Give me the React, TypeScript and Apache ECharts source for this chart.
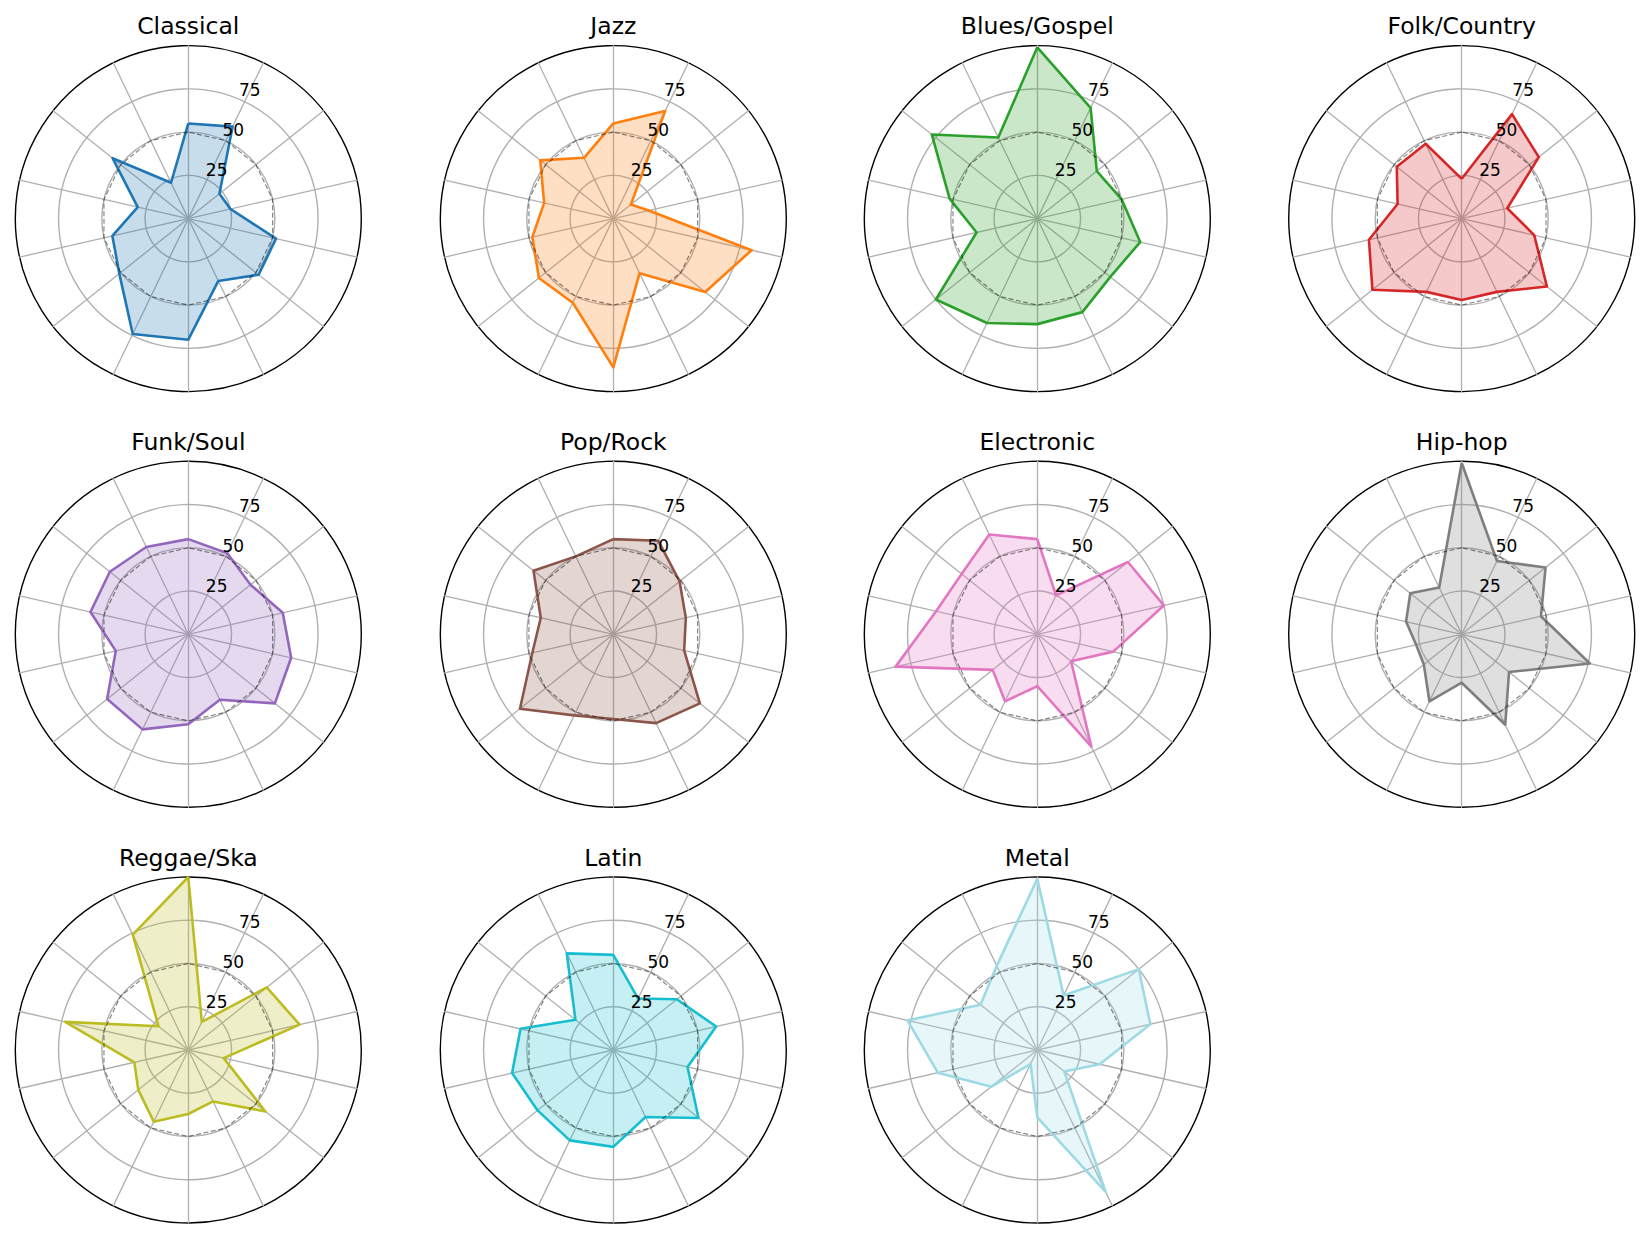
import React, { useEffect, useRef } from "react";
import * as echarts from "echarts";

// Genres (one radar each), values listed clockwise starting from the top spoke
const genres = [
  "Classical", "Jazz", "Blues/Gospel", "Folk/Country",
  "Funk/Soul", "Pop/Rock", "Electronic", "Hip-hop",
  "Reggae/Ska", "Latin", "Metal",
];

const classical = [55, 59, 23, 25, 52, 52, 40, 70, 74, 51, 45, 30, 56, 23];
const jazz = [55, 69, 13, 21, 82, 68, 35, 86, 54, 55, 48, 41, 54, 39];
const bluesGospel = [99, 71, 44, 50, 61, 54, 60, 61, 67, 75, 36, 52, 78, 52];
const folkCountry = [23, 67, 57, 27, 43, 63, 47, 47, 47, 66, 55, 38, 48, 48];
const funkSoul = [55, 52, 46, 56, 61, 64, 42, 52, 61, 60, 43, 58, 58, 56];
const popRock = [55, 60, 49, 43, 42, 64, 57, 49, 52, 69, 48, 43, 59, 50];
const electronic = [55, 25, 67, 75, 45, 25, 72, 30, 43, 33, 84, 60, 56, 64];
const hipHop = [99, 47, 62, 47, 76, 35, 58, 28, 43, 28, 27, 33, 38, 30];
const reggaeSka = [100, 18, 58, 66, 21, 57, 33, 37, 46, 37, 32, 73, 22, 74];
const latin = [55, 33, 47, 61, 44, 63, 43, 56, 58, 56, 60, 55, 28, 62];
const metal = [99, 35, 75, 67, 37, 20, 91, 39, 9, 34, 59, 77, 42, 54];

const seriesValues = [
  classical, jazz, bluesGospel, folkCountry, funkSoul, popRock,
  electronic, hipHop, reggaeSka, latin, metal,
];

// dashed reference polygon at 50 on every spoke
const referenceRing = [50, 50, 50, 50, 50, 50, 50, 50, 50, 50, 50, 50, 50, 50];

// radial tick labels
const radialTicks = [25, 50, 75];

// styles
const palette = [
  "#1f77b4", "#ff7f0e", "#2ca02c", "#d62728", "#9467bd", "#8c564b",
  "#e377c2", "#7f7f7f", "#bcbd22", "#17becf", "#9edae5",
];

const AXIS_COUNT = 14;
const W = 1650;
const H = 1239;
const colCenters = [188.3, 613.3, 1037.3, 1461.7];
const rowCenters = [218.6, 634.3, 1050];
const RADIUS = 173;
const LABEL_ANGLE_DEG = 22.5;
const FONT = "DejaVu Sans";

// values are read clockwise; ECharts radar lays indicators out counter-clockwise
function toEchartsOrder(vals: number[]): number[] {
  return vals.map((_, i) => vals[(AXIS_COUNT - i) % AXIS_COUNT]);
}

export default function App() {
  const ref = useRef<HTMLDivElement>(null);

  useEffect(() => {
    if (!ref.current) return;
    const chart = echarts.init(ref.current, null, { renderer: "svg" });

    const radars: any[] = [];
    const series: any[] = [];
    const graphics: any[] = [];
    const a = (LABEL_ANGLE_DEG * Math.PI) / 180;

    genres.forEach((name, i) => {
      const cx = colCenters[i % 4];
      const cy = rowCenters[Math.floor(i / 4)];
      const color = palette[i];

      radars.push({
        center: [cx, cy],
        radius: RADIUS,
        startAngle: 90,
        shape: "circle",
        splitNumber: 4,
        indicator: Array.from({ length: AXIS_COUNT }, () => ({ name: "", min: 0, max: 100 })),
        axisName: { show: false },
        axisLine: { lineStyle: { color: "#b0b0b0", width: 1.3 } },
        axisTick: { show: false },
        axisLabel: { show: false },
        splitLine: {
          lineStyle: {
            color: ["#b0b0b0", "#b0b0b0", "#b0b0b0", "#b0b0b0", "#000000"],
            width: 1.4,
          },
        },
        splitArea: { show: false },
      });

      series.push({
        type: "radar",
        radarIndex: i,
        symbol: "none",
        z: 2,
        lineStyle: { color, width: 2.6 },
        areaStyle: { color, opacity: 0.25 },
        itemStyle: { color },
        data: [{ name, value: toEchartsOrder(seriesValues[i]) }],
      });

      series.push({
        type: "radar",
        radarIndex: i,
        symbol: "none",
        z: 3,
        silent: true,
        lineStyle: { color: "rgba(0,0,0,0.5)", width: 1.1, type: [5, 2.5] },
        itemStyle: { color: "rgba(0,0,0,0.5)" },
        data: [{ name: "reference", value: toEchartsOrder(referenceRing) }],
      });

      graphics.push({
        type: "text",
        x: cx,
        y: cy - 192.3,
        z: 10,
        style: {
          text: name,
          fontSize: 23.5,
          fontFamily: FONT,
          fill: "#000",
          align: "center",
          verticalAlign: "middle",
          textAlign: "center",
          textVerticalAlign: "middle",
        },
      });

      radialTicks.forEach((t) => {
        const r = (RADIUS * t) / 100;
        graphics.push({
          type: "text",
          x: cx + r * Math.sin(a) + 1,
          y: cy - r * Math.cos(a),
          z: 10,
          style: {
            text: String(t),
            fontSize: 17,
            fontFamily: FONT,
            fill: "#000",
            align: "left",
            verticalAlign: "bottom",
            textAlign: "left",
            textVerticalAlign: "bottom",
          },
        });
      });
    });

    chart.setOption({
      animation: false,
      backgroundColor: "#ffffff",
      radar: radars,
      series,
      graphic: graphics,
    });

    return () => chart.dispose();
  }, []);

  return (
    <div
      ref={ref}
      style={{ position: "absolute", left: 0, top: 0, width: W, height: H, background: "#fff" }}
    />
  );
}
